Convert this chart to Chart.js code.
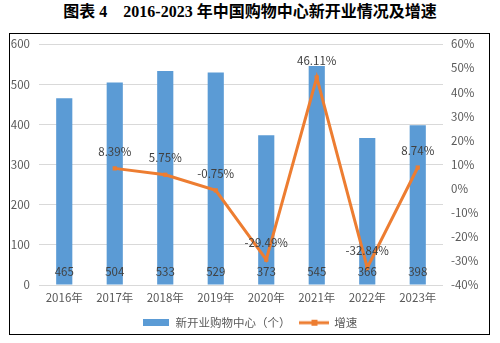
<!DOCTYPE html>
<html>
<head>
<meta charset="utf-8">
<script src="https://cdn.jsdelivr.net/npm/chart.js@4/dist/chart.umd.min.js"></script>
<style>
  body { margin: 0; background: #fff; width: 500px; height: 343px; position: relative; overflow: hidden; }
  #title {
    position: absolute; left: 0; top: -2px; width: 500px; text-align: center;
    font: bold 16px "Liberation Serif", "Noto Sans CJK SC", serif; color: #000;
  }
  #box {
    position: absolute; left: 9px; top: 33px; width: 479px; height: 300px;
    border: 1px solid #000;
  }
</style>
</head>
<body>
<div id="title">图表 4　2016-2023 年中国购物中心新开业情况及增速</div>
<div id="box"><canvas id="chart" width="479" height="300"></canvas></div>
<script>
var years = ["2016年", "2017年", "2018年", "2019年", "2020年", "2021年", "2022年", "2023年"];
var newMalls = [465, 504, 533, 529, 373, 545, 366, 398];
var growth = [null, 8.39, 5.75, -0.75, -29.49, 46.11, -32.84, 8.74];

var BLUE = "#5B9BD5";
var ORANGE = "#ED7D31";
var TEXT = "#595959";
var FONT = "'Noto Sans CJK SC', 'DejaVu Sans', sans-serif";

// legend swatches
function barSwatch() {
  var c = document.createElement("canvas");
  c.width = 26; c.height = 7;
  var g = c.getContext("2d");
  g.fillStyle = BLUE;
  g.fillRect(0, 0, 26, 7);
  return c;
}
function lineSwatch() {
  var c = document.createElement("canvas");
  c.width = 30; c.height = 8;
  var g = c.getContext("2d");
  g.strokeStyle = ORANGE;
  g.lineWidth = 3;
  g.beginPath(); g.moveTo(0, 4); g.lineTo(30, 4); g.stroke();
  g.fillStyle = ORANGE;
  g.fillRect(12, 1, 6, 6);
  return c;
}

// keep the legend strip short so the plot gets the room
var compactLegend = {
  id: "compactLegend",
  afterInit: function(chart) {
    var lg = chart.legend;
    var fit = lg.fit;
    lg.fit = function() {
      fit.call(this);
      this.height = 27;
    };
  }
};

// value labels: bars at the base, line above its points
var valueLabels = {
  id: "valueLabels",
  afterDatasetsDraw: function(chart) {
    var ctx = chart.ctx;
    ctx.save();
    ctx.font = "11.5px " + FONT;
    ctx.textAlign = "center";
    ctx.textBaseline = "middle";
    ctx.fillStyle = "#404040";
    chart.data.datasets.forEach(function(ds, i) {
      var meta = chart.getDatasetMeta(i);
      meta.data.forEach(function(el, j) {
        var v = ds.data[j];
        if (v === null) return;
        if (ds.type === "bar") {
          ctx.fillText(String(v), el.x, el.base - 13);
        } else {
          ctx.fillText(v.toFixed(2) + "%", el.x, el.y - 17);
        }
      });
    });
    ctx.restore();
  }
};

// fixed side axis width, no extra room reserved above/below for tick text
function sideFit(w) {
  return function(s) {
    s.width = w;
    s.paddingTop = 0;
    s.paddingBottom = 0;
  };
}

var ctx = document.getElementById("chart").getContext("2d");
var chart = new Chart(ctx, {
  data: {
    labels: years,
    datasets: [{
      type: "line",
      label: "增速",
      data: growth,
      yAxisID: "y2",
      borderColor: ORANGE,
      backgroundColor: ORANGE,
      borderWidth: 3,
      pointStyle: "rect",
      pointRadius: 3,
      pointBorderWidth: 0,
      pointBackgroundColor: ORANGE,
      tension: 0,
      order: 0
    }, {
      type: "bar",
      label: "新开业购物中心（个）",
      data: newMalls,
      yAxisID: "y",
      backgroundColor: BLUE,
      categoryPercentage: 1,
      barPercentage: 0.32,
      order: 1
    }]
  },
  options: {
    responsive: false,
    animation: false,
    layout: { padding: { top: 10, left: 0, right: 0, bottom: 0 } },
    plugins: {
      tooltip: { enabled: false },
      legend: {
        position: "bottom",
        reverse: true,
        labels: {
          usePointStyle: true,
          pointStyleWidth: 28,
          boxHeight: 8,
          padding: 10,
          color: TEXT,
          font: { family: FONT, size: 11.5 },
          generateLabels: function(chart) {
            return chart.data.datasets.map(function(ds, i) {
              return {
                text: ds.label,
                pointStyle: ds.type === "bar" ? barSwatch() : lineSwatch(),
                fillStyle: ds.backgroundColor,
                strokeStyle: ds.backgroundColor,
                lineWidth: 0,
                fontColor: TEXT,
                datasetIndex: i
              };
            });
          }
        }
      }
    },
    scales: {
      x: {
        grid: { display: false, drawTicks: false },
        border: { display: false },
        ticks: { color: TEXT, font: { family: FONT, size: 11.5 }, padding: 6, maxRotation: 0 },
        afterFit: function(s) { s.height = 22; }
      },
      y: {
        position: "left",
        min: 0, max: 600,
        ticks: { stepSize: 100, color: TEXT, font: { family: FONT, size: 11.5 }, padding: 9 },
        grid: { color: "#D9D9D9", drawTicks: false },
        border: { display: false },
        afterFit: sideFit(29)
      },
      y2: {
        position: "right",
        min: -40, max: 60,
        ticks: {
          stepSize: 10, color: TEXT, font: { family: FONT, size: 11.5 }, padding: 8,
          callback: function(v) { return v + "%"; }
        },
        grid: { display: false, drawTicks: false },
        border: { display: false },
        afterFit: sideFit(46)
      }
    }
  },
  plugins: [compactLegend, valueLabels]
});
</script>
</body>
</html>
